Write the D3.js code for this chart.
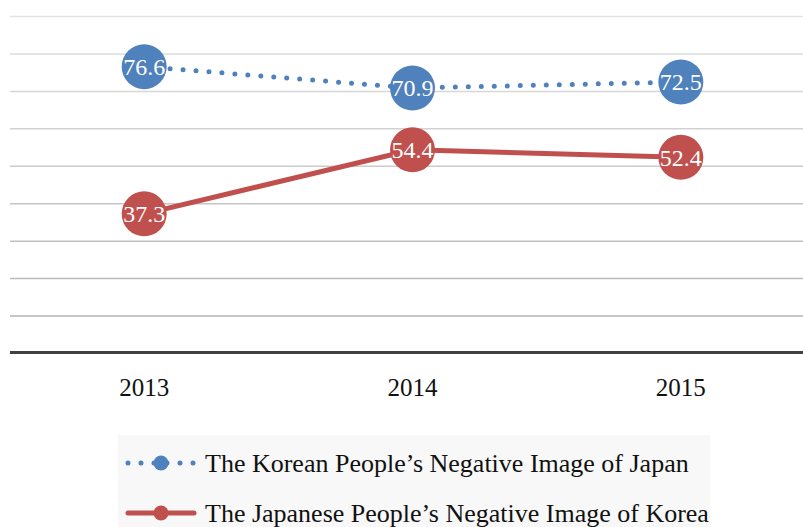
<!DOCTYPE html>
<html>
<head>
<meta charset="utf-8">
<script src="https://cdn.jsdelivr.net/npm/d3@7"></script>
<style>
  body { margin: 0; background: #fff; }
  svg { display: block; font-family: "Liberation Serif", "DejaVu Serif", serif; }
</style>
</head>
<body>
<div class="chart"></div>
<script>
var years = ['2013', '2014', '2015'];
var koreanView = [76.6, 70.9, 72.5];
var japaneseView = [37.3, 54.4, 52.4];
var seriesNames = [
    'The Korean People\u2019s Negative Image of Japan',
    'The Japanese People\u2019s Negative Image of Korea'
];
var gridTicks = [10, 20, 30, 40, 50, 60, 70, 80, 90];

var width = 803,
    height = 527;

var x = d3.scaleBand()
    .domain(years)
    .range([10, 815]);

var y = d3.scaleLinear()
    .domain([0, 90])
    .range([353.5, 16.5]);

var svg = d3.select('div.chart')
    .append('svg')
        .attr('width', width)
        .attr('height', height);

// gridlines, a bit darker towards the bottom
var gridColor = d3.scaleLinear().domain([10, 90]).range(['#b4b4b4', '#e2e2e2']);
svg.selectAll('line.grid')
    .data(gridTicks)
    .enter()
    .append('line')
        .attr('class', 'grid')
        .attr('x1', 10)
        .attr('x2', width)
        .attr('y1', (d) => y(d))
        .attr('y2', (d) => y(d))
        .attr('stroke', (d) => gridColor(d))
        .attr('stroke-width', 1.5);

// baseline
svg.append('line')
    .attr('x1', 10)
    .attr('x2', width)
    .attr('y1', y(0) - 1)
    .attr('y2', y(0) - 1)
    .attr('stroke', '#404040')
    .attr('stroke-width', 3);

svg.selectAll('text.year')
    .data(years)
    .enter()
    .append('text')
        .attr('class', 'year')
        .attr('x', (d) => x(d) + x.bandwidth() / 2)
        .attr('y', 396)
        .attr('text-anchor', 'middle')
        .attr('font-size', 25)
        .attr('fill', '#111')
        .text((d) => d);

var series = [
    {name: seriesNames[0], values: koreanView, color: '#4f81bd', dotted: true},
    {name: seriesNames[1], values: japaneseView, color: '#c0504d', dotted: false}
];

var line = d3.line()
    .x((d, i) => x(years[i]) + x.bandwidth() / 2)
    .y((d) => y(d));

series.forEach(function(s) {
    svg.append('path')
        .datum(s.values)
        .attr('d', line)
        .attr('fill', 'none')
        .attr('stroke', s.color)
        .attr('stroke-width', 5)
        .attr('stroke-linecap', 'round')
        .attr('stroke-dasharray', s.dotted ? '0 13' : null);

    var g = svg.selectAll(null)
        .data(s.values)
        .enter()
        .append('g')
            .attr('transform', (d, i) => 'translate(' + (x(years[i]) + x.bandwidth() / 2) + ',' + y(d) + ')');

    g.append('circle')
        .attr('r', 22.5)
        .attr('fill', s.color);

    g.append('text')
        .attr('text-anchor', 'middle')
        .attr('dy', '0.35em')
        .attr('font-size', 24)
        .attr('fill', '#fff')
        .text((d) => d.toFixed(1));
});

// legend
var legend = svg.append('g');
legend.append('rect')
    .attr('x', 118)
    .attr('y', 435)
    .attr('width', 592)
    .attr('height', 100)
    .attr('fill', '#f8f8f8');

var legendRows = legend.selectAll('g')
    .data(series)
    .enter()
    .append('g')
        .attr('transform', (d, i) => 'translate(0,' + (463 + i * 50) + ')');

legendRows.append('line')
    .attr('x1', 128)
    .attr('x2', 194)
    .attr('stroke', (d) => d.color)
    .attr('stroke-width', 5)
    .attr('stroke-linecap', 'round')
    .attr('stroke-dasharray', (d) => d.dotted ? '0 13' : null);

legendRows.append('circle')
    .attr('cx', 161)
    .attr('r', 7.5)
    .attr('fill', (d) => d.color);

legendRows.append('text')
    .attr('x', 205)
    .attr('dy', '0.35em')
    .attr('font-size', 26)
    .attr('fill', '#111')
    .text((d) => d.name);
</script>
</body>
</html>
